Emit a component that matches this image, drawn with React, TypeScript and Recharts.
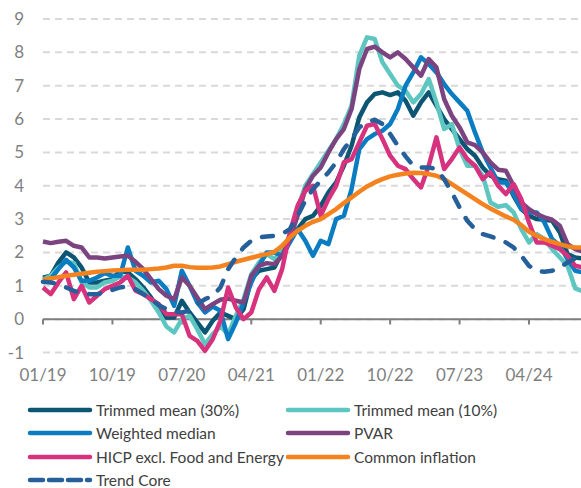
import React from 'react';
import { LineChart, Line, XAxis, YAxis, CartesianGrid, ReferenceLine } from 'recharts';

// monthly observations, 01/19 .. 11/24
const years = ['19', '20', '21', '22', '23', '24'];
const allMonths: string[] = [];
years.forEach((y) => {
  for (let m = 1; m <= 12; m++) allMonths.push(`${String(m).padStart(2, '0')}/${y}`);
});
const months = allMonths.slice(0, 71);

const xTicks = ['01/19', '10/19', '07/20', '04/21', '01/22', '10/22', '07/23', '04/24'];
const yTicks = [-1, 0, 1, 2, 3, 4, 5, 6, 7, 8, 9];

const trimmed30 = [
  1.24, 1.3, 1.7, 2.0, 1.85, 1.55, 1.1, 1.1, 1.15, 1.2, 1.45, 1.4,
  1.2, 0.95, 0.65, 0.3, 0.05, 0.05, 0.55, 0.2, -0.1, -0.4, -0.05, 0.2,
  0.1, 0.0, 0.3, 1.2, 1.45, 1.5, 1.55, 2.0, 2.5, 2.7, 3.0, 3.1,
  3.4, 3.8, 4.1, 4.6, 5.2, 6.05, 6.5, 6.75, 6.8, 6.72, 6.8, 6.55,
  6.1, 6.5, 6.8, 6.4, 6.0, 5.7, 5.4, 5.1, 4.9, 4.55, 4.3, 4.2,
  4.15, 3.7, 3.3, 3.1, 3.0, 2.98, 2.95, 2.6, 1.95, 1.85, 1.82,
];

const trimmed10 = [
  1.18, 1.3, 1.55, 1.72, 1.68, 1.1, 0.95, 0.95, 1.1, 1.15, 1.28, 1.25,
  1.1, 0.85, 0.55, 0.2, -0.22, -0.4, 0.0, 0.1, -0.3, -0.75, -0.45, -0.22,
  -0.45, 0.1, 0.6, 1.35, 1.7, 1.95, 1.8, 2.1, 2.5, 3.3, 4.0, 4.35,
  4.7, 5.05, 5.4, 5.85, 6.4, 7.9, 8.45, 8.4, 7.7, 7.35, 7.0, 6.85,
  6.5, 6.75, 7.2, 6.5, 5.7, 5.85, 5.1, 4.6, 4.6, 4.3, 3.5, 3.37,
  3.42, 3.2, 2.7, 2.3, 2.55, 2.4, 2.1, 1.85, 1.6, 0.92, 0.83,
];

const weightedMedian = [
  1.1, 1.2, 1.5, 1.78, 1.55, 1.15, 1.15, 1.25, 1.38, 1.3, 1.3, 2.15,
  1.45, 1.3, 1.1, 1.15, 0.9, 0.4, 1.45, 1.0, 0.5, 0.2, 0.38, 0.25,
  -0.6, -0.1, 0.5, 1.1, 1.6, 2.0, 2.0, 1.9, 2.3, 2.7, 2.35, 1.9,
  2.35, 2.25, 3.0, 3.1, 3.9, 5.1, 5.4, 5.55, 5.65, 5.85, 6.3, 7.0,
  7.4, 7.85, 7.65, 7.4, 7.05, 6.75, 6.5, 6.25, 5.6, 5.0, 4.55, 4.1,
  4.1, 3.75, 3.3, 3.2, 3.2, 2.9, 2.4, 2.2, 1.8, 1.45, 1.4,
];

const pvar = [
  2.33, 2.28, 2.32, 2.35, 2.2, 2.15, 1.85, 1.85, 1.82, 1.85, 1.88, 1.9,
  1.72, 1.5, 1.2, 0.9, 0.7, 0.6, 1.25, 1.0, 0.65, 0.3, 0.45, 0.58,
  0.62, 0.55, 0.5, 1.3, 1.6, 1.68, 1.65, 1.9, 2.4, 3.1, 3.9, 4.3,
  4.55, 5.0, 5.4, 5.7, 6.3, 7.5, 8.1, 8.17, 8.0, 7.85, 8.0, 7.8,
  7.55, 7.3, 7.8, 7.55, 6.6, 6.1, 5.75, 5.3, 5.22, 5.0, 4.7, 4.48,
  4.45, 4.0, 3.5, 3.3, 3.15, 3.05, 2.98, 2.8, 2.25, 2.1, 2.02,
];

const hicpx = [
  0.95, 0.75, 1.1, 1.4, 0.6, 1.0, 0.5, 0.7, 0.9, 1.0, 1.1, 1.3,
  0.85, 0.75, 0.6, 0.45, 0.15, 0.15, 0.15, -0.5, -0.65, -0.95, -0.6, -0.05,
  0.95, 0.35, 0.0, 0.2, 0.9, 1.25, 0.85, 1.5, 2.6, 3.4, 3.85, 4.0,
  3.1, 3.6, 4.0, 4.7, 4.8, 5.3, 5.8, 5.85, 5.4, 4.9, 4.6, 4.5,
  4.2, 3.95, 4.6, 5.45, 4.5, 4.8, 5.15, 4.8, 4.6, 4.2, 4.4, 4.0,
  3.75, 4.05, 3.6, 2.9, 2.3, 2.3, 2.2, 2.1, 1.9, 1.6, 1.55,
];

const common = [
  1.18, 1.22, 1.26, 1.3, 1.33, 1.36, 1.39, 1.42, 1.44, 1.46, 1.47, 1.48,
  1.48, 1.48, 1.5, 1.52, 1.55, 1.6, 1.6, 1.56, 1.54, 1.54, 1.55, 1.58,
  1.65, 1.72, 1.78, 1.84, 1.9, 1.95, 2.02, 2.2, 2.45, 2.65, 2.8, 2.92,
  3.0, 3.15, 3.3, 3.48, 3.65, 3.82, 3.98, 4.1, 4.2, 4.28, 4.33, 4.37,
  4.39, 4.38, 4.35, 4.3, 4.2, 4.05, 3.9, 3.75, 3.6, 3.45, 3.32, 3.2,
  3.08, 2.98, 2.82, 2.62, 2.5, 2.4, 2.32, 2.25, 2.18, 2.15, 2.15,
];

const trendCore = [
  1.12, 1.1, 1.05, 0.95, 0.85, 0.78, 0.75, 0.75, 0.8, 0.88, 0.95, 0.98,
  0.9, 0.75, 0.6, 0.42, 0.3, 0.22, 0.2, 0.25, 0.45, 0.6, 0.7, 0.95,
  1.5, 1.85, 2.15, 2.35, 2.45, 2.48, 2.5, 2.55, 2.7, 3.1, 3.55, 3.9,
  4.15, 4.4, 4.7, 5.1, 5.4, 5.75, 5.9, 5.98, 5.85, 5.55, 5.2, 4.88,
  4.6, 4.55, 4.55, 4.5, 4.2, 3.8, 3.35, 2.95, 2.7, 2.55, 2.48, 2.4,
  2.3, 2.15, 1.9, 1.6, 1.45, 1.42, 1.45, 1.55, 1.7, 1.82, 1.87,
];

const data = months.map((m, i) => ({
  m,
  t30: trimmed30[i],
  t10: trimmed10[i],
  wm: weightedMedian[i],
  pvar: pvar[i],
  hicpx: hicpx[i],
  common: common[i],
  trend: trendCore[i],
}));

const series = [
  { key: 't30', name: 'Trimmed mean (30%)', color: '#0d5673' },
  { key: 't10', name: 'Trimmed mean (10%)', color: '#5ec6c1' },
  { key: 'wm', name: 'Weighted median', color: '#0a7cc1' },
  { key: 'pvar', name: 'PVAR', color: '#7b4480' },
  { key: 'hicpx', name: 'HICP excl. Food and Energy', color: '#d6327d' },
  { key: 'common', name: 'Common inflation', color: '#f4831f' },
  { key: 'trend', name: 'Trend Core', color: '#25609a', dashed: true },
];

const tickStyle = { fill: '#7f7f7f', fontSize: 17, fontFamily: 'Lato' };

function LegendItem({ s }: { s: any }) {
  return (
    <div style={{ display: 'flex', alignItems: 'center', height: 23.5, whiteSpace: 'nowrap' }}>
      <svg width={66} height={8} style={{ marginRight: 3, flexShrink: 0 }}>
        <line
          x1={3}
          y1={4}
          x2={63}
          y2={4}
          stroke={s.color}
          strokeWidth={4.5}
          strokeLinecap="round"
          strokeDasharray={s.dashed ? '13 6' : undefined}
        />
      </svg>
      <span>{s.name}</span>
    </div>
  );
}

export default function App() {
  return (
    <div
      style={{
        position: 'absolute',
        left: 0,
        top: 0,
        width: 581,
        height: 488,
        overflow: 'hidden',
        background: '#fff',
        fontFamily: 'Lato',
      }}
    >
      <LineChart
        width={583}
        height={395}
        data={data}
        margin={{ top: 19, right: 0, bottom: 0, left: 0 }}
      >
        <CartesianGrid vertical={false} stroke="#d9d9d9" strokeWidth={2} strokeDasharray="7 5" />
        <XAxis
          dataKey="m"
          ticks={xTicks}
          interval={0}
          axisLine={false}
          tickLine={false}
          tickMargin={10}
          height={42.5}
          tick={tickStyle}
        />
        <YAxis
          domain={[-1, 9]}
          ticks={yTicks}
          interval={0}
          axisLine={false}
          tickLine={false}
          tickMargin={13}
          width={43}
          tick={tickStyle}
        />
        <ReferenceLine y={0} stroke="#7f7f7f" strokeWidth={2} />
        {xTicks.map((t) => (
          <ReferenceLine
            key={t}
            segment={[
              { x: t, y: 0 },
              { x: t, y: -0.16 },
            ]}
            stroke="#7f7f7f"
            strokeWidth={2}
          />
        ))}
        {series.map((s) => (
          <Line
            key={s.key}
            type="linear"
            dataKey={s.key}
            stroke={s.color}
            strokeWidth={4.5}
            strokeLinejoin="round"
            strokeLinecap={s.dashed ? 'round' : 'butt'}
            strokeDasharray={s.dashed ? '11 13' : undefined}
            dot={false}
            activeDot={false}
            isAnimationActive={false}
          />
        ))}
      </LineChart>
      <div
        style={{
          position: 'absolute',
          left: 27,
          top: 398,
          display: 'grid',
          gridTemplateColumns: '258px 258px',
          fontSize: 15.5,
          color: '#404040',
        }}
      >
        {series.map((s) => (
          <LegendItem key={s.key} s={s} />
        ))}
      </div>
    </div>
  );
}
